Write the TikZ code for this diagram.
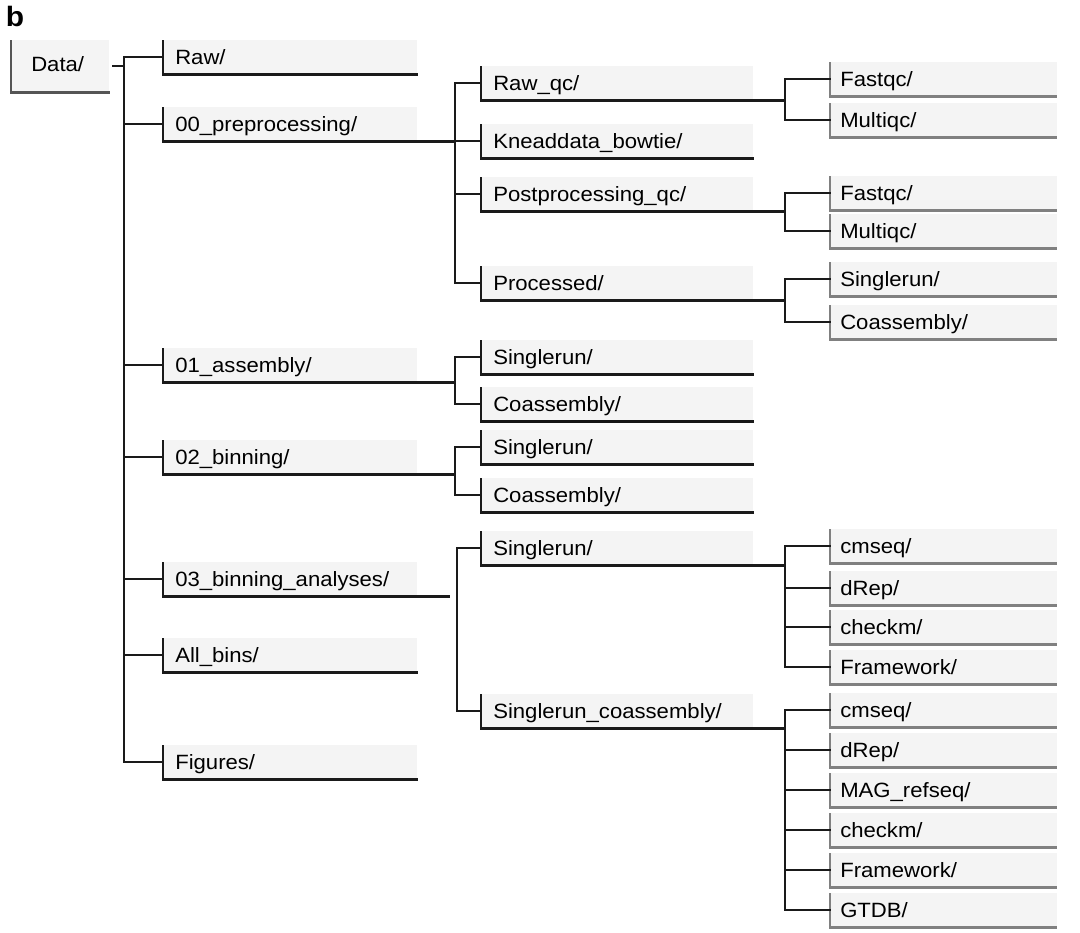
\documentclass[tikz,border=0pt]{standalone}
\usepackage{fontspec}
\setmainfont{Liberation Sans}[FakeStretch=1.07]
\definecolor{boxfill}{RGB}{244,244,244}
\definecolor{edgegray}{RGB}{128,128,128}
\definecolor{edgedark}{RGB}{85,85,85}
\definecolor{ink}{RGB}{26,26,26}

\begin{document}
\begin{tikzpicture}[x=0.75pt,y=0.75pt,yscale=-1,xscale=1,
  dirbox/.style={anchor=north west, fill=boxfill, inner sep=0pt, inner xsep=9pt, minimum height=25.5pt, text height=13pt, text depth=2.5pt, align=left, font=\fontsize{15.5}{18}\selectfont},
  databox/.style={dirbox, minimum width=73.5pt, minimum height=39pt, inner xsep=15pt, text width=43.5pt, text height=11pt, text depth=3.5pt},
  lvone/.style={dirbox, minimum width=190.5pt, text width=172.5pt},
  lvtwo/.style={dirbox, minimum width=204pt, text width=186pt},
  lvthree/.style={dirbox, minimum width=170pt, text width=155pt, inner xsep=7.5pt},
  conn/.style={draw=ink, line width=1.8pt, line cap=rect},
  edgeA/.style={draw=ink, line width=1.8pt},
  edgeB/.style={draw=edgegray, line width=1.6pt},
  edgeD/.style={draw=edgedark, line width=1.6pt}
]
\useasboundingbox (0,0) rectangle (1080,932);

% panel letter
\node[font=\fontsize{21}{22}\bfseries] (letter) at (15,16.5) {b};

% root
\node[databox] (data) at (11,40) {Data/};

% first level
\node[lvone] (raw) at (163,40) {Raw/};
\node[lvone] (pre) at (163,107) {00\_preprocessing/};
\node[lvone] (asm) at (163,348) {01\_assembly/};
\node[lvone] (bin) at (163,440) {02\_binning/};
\node[lvone] (ana) at (163,562) {03\_binning\_analyses/};
\node[lvone] (allb) at (163,638) {All\_bins/};
\node[lvone] (figs) at (163,745) {Figures/};

% second level
\node[lvtwo] (rawqc) at (481,66) {Raw\_qc/};
\node[lvtwo] (knead) at (481,124) {Kneaddata\_bowtie/};
\node[lvtwo] (postqc) at (481,177) {Postprocessing\_qc/};
\node[lvtwo] (proc) at (481,266) {Processed/};
\node[lvtwo] (asr) at (481,340) {Singlerun/};
\node[lvtwo] (aco) at (481,387) {Coassembly/};
\node[lvtwo] (bsr) at (481,430) {Singlerun/};
\node[lvtwo] (bco) at (481,478) {Coassembly/};
\node[lvtwo] (nsr) at (481,531) {Singlerun/};
\node[lvtwo] (nsc) at (481,694) {Singlerun\_coassembly/};

% third level
\node[lvthree] (rfq) at (830,62) {Fastqc/};
\node[lvthree] (rmq) at (830,103) {Multiqc/};
\node[lvthree] (pfq) at (830,176) {Fastqc/};
\node[lvthree] (pmq) at (830,214) {Multiqc/};
\node[lvthree] (psr) at (830,262) {Singlerun/};
\node[lvthree] (pco) at (830,305) {Coassembly/};
\node[lvthree] (cm1) at (830,529) {cmseq/};
\node[lvthree] (dr1) at (830,571) {dRep/};
\node[lvthree] (ck1) at (830,610) {checkm/};
\node[lvthree] (fw1) at (830,650) {Framework/};
\node[lvthree] (cm2) at (830,693) {cmseq/};
\node[lvthree] (dr2) at (830,733) {dRep/};
\node[lvthree] (mag) at (830,773) {MAG\_refseq/};
\node[lvthree] (ck2) at (830,813) {checkm/};
\node[lvthree] (fw2) at (830,853) {Framework/};
\node[lvthree] (gt) at (830,893) {GTDB/};

% box edges
\draw[edgeD] (data.north west) |- (data.south east);
\foreach \n in {raw,pre,asm,bin,ana,allb,figs,rawqc,knead,postqc,proc,asr,aco,bsr,bco,nsr,nsc}
  \draw[edgeA] (\n.north west) |- (\n.south east);
\foreach \n in {rfq,rmq,pfq,pmq,psr,pco,cm1,dr1,ck1,fw1,cm2,dr2,mag,ck2,fw2,gt}
  \draw[edgeB] (\n.north west) |- (\n.south east);

% trunks
\coordinate (tA) at (124,0);
\coordinate (tB) at (455,0);
\coordinate (tC) at (457,0);
\coordinate (tD) at (785,0);

% Data/
\draw[conn] ([xshift=3pt]data.east) -- (data.east -| tA);
\draw[conn] (raw.west) -| (figs.west -| tA) -- (figs.west);
\foreach \n in {pre,asm,bin,ana,allb}
  \draw[conn] (\n.west -| tA) -- (\n.west);

% 00_preprocessing/
\draw[conn] (pre.south east) -- (pre.south east -| tB);
\draw[conn] (rawqc.west) -| (proc.west -| tB) -- (proc.west);
\foreach \n in {knead,postqc}
  \draw[conn] (\n.west -| tB) -- (\n.west);

% 01_assembly/ and 02_binning/
\draw[conn] (asm.south east) -- (asm.south east -| tB);
\draw[conn] (asr.west) -| (aco.west -| tB) -- (aco.west);
\draw[conn] (bin.south east) -- (bin.south east -| tB);
\draw[conn] (bsr.west) -| (bco.west -| tB) -- (bco.west);

% 03_binning_analyses/
\draw[conn] (ana.south east) -- ++(31,0);
\draw[conn] (nsr.west) -| (nsc.west -| tC) -- (nsc.west);

% third level
\draw[conn] (rawqc.south east) -- (rawqc.south east -| tD);
\draw[conn] (rfq.west) -| (rmq.west -| tD) -- (rmq.west);
\draw[conn] (postqc.south east) -- (postqc.south east -| tD);
\draw[conn] (pfq.west) -| (pmq.west -| tD) -- (pmq.west);
\draw[conn] (proc.south east) -- (proc.south east -| tD);
\draw[conn] (psr.west) -| (pco.west -| tD) -- (pco.west);

\draw[conn] (nsr.south east) -- (nsr.south east -| tD);
\draw[conn] (cm1.west) -| (fw1.west -| tD) -- (fw1.west);
\foreach \n in {dr1,ck1}
  \draw[conn] (\n.west -| tD) -- (\n.west);

\draw[conn] (nsc.south east) -- (nsc.south east -| tD);
\draw[conn] (cm2.west) -| (gt.west -| tD) -- (gt.west);
\foreach \n in {dr2,mag,ck2,fw2}
  \draw[conn] (\n.west -| tD) -- (\n.west);

\end{tikzpicture}
\end{document}
